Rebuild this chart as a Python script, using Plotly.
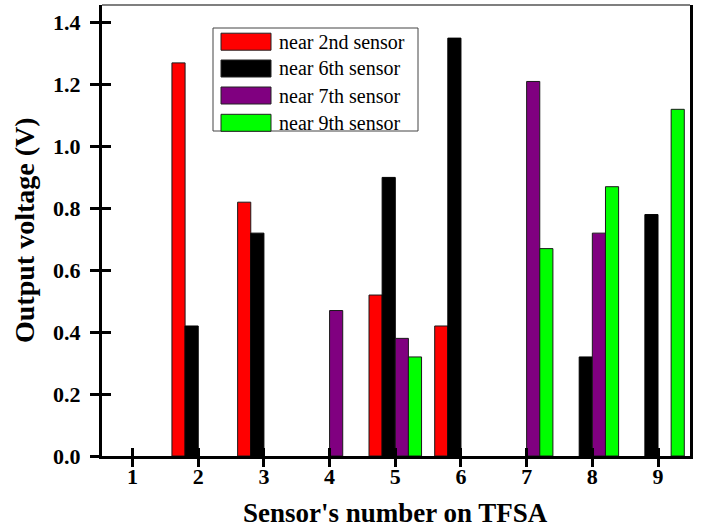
import plotly.graph_objects as go

# ---- data ----
sensors = [1, 2, 3, 4, 5, 6, 7, 8, 9]
near_2nd = [None, 1.27, 0.82, None, 0.52, 0.42, None, None, None]
near_6th = [None, 0.42, 0.72, None, 0.90, 1.35, None, 0.32, 0.78]
near_7th = [None, None, None, 0.47, 0.38, None, 1.21, 0.72, None]
near_9th = [None, None, None, None, 0.32, None, 0.67, 0.87, 1.12]
series_names = ["near 2nd sensor", "near 6th sensor", "near 7th sensor", "near 9th sensor"]
series_values = [near_2nd, near_6th, near_7th, near_9th]
colors = ["#FF0000", "#000000", "#800080", "#00FF00"]
y_ticks = [0.0, 0.2, 0.4, 0.6, 0.8, 1.0, 1.2, 1.4]

W, H = 704, 531
L, R, T, B = 102, 14, 5, 75
PW, PH = W - L - R, H - T - B


def px(xp):
    return (xp - L) / PW


def py(yp):
    return (H - B - yp) / PH


FONT = "Liberation Serif, Times New Roman, serif"

fig = go.Figure()
for name, vals, col in zip(series_names, series_values, colors):
    fig.add_trace(go.Bar(
        x=sensors, y=vals, name=name,
        marker=dict(color=col, line=dict(color="#000000" if col == "#000000" else "#1a1a1a", width=1)),
        showlegend=False,
    ))

# empty trace for overlay axes (crossing ticks)
fig.add_trace(go.Scatter(x=[], y=[], xaxis="x2", yaxis="y2", showlegend=False))

xr = [0.535, 9.487]
yr = [0, 1.457]

fig.update_layout(
    width=W, height=H,
    margin=dict(l=L, r=R, t=T, b=B, pad=0),
    paper_bgcolor="white", plot_bgcolor="white",
    barmode="group", bargap=0.2, bargroupgap=0,
    font=dict(family=FONT, color="black"),
    xaxis=dict(range=xr, tickmode="array", tickvals=sensors, ticktext=[str(s) for s in sensors],
               showgrid=False, zeroline=False, showline=True, linecolor="black", linewidth=3,
               ticks="outside", ticklen=8, tickwidth=3, tickcolor="black", automargin=False,
               ticklabelstandoff=-9,
               tickfont=dict(size=22, family=FONT, weight="bold"), mirror=False),
    yaxis=dict(range=yr, tickmode="array", tickvals=y_ticks, ticktext=[f"{v:.1f}" for v in y_ticks],
               showgrid=False, zeroline=False, showline=True, linecolor="black", linewidth=3,
               ticks="outside", ticklen=9, tickwidth=3, tickcolor="black", automargin=False,
               ticklabelstandoff=5,
               tickfont=dict(size=22, family=FONT, weight="bold"), mirror=True),
    xaxis2=dict(range=xr, overlaying="x", anchor="y", side="bottom", tickmode="array", tickvals=sensors,
                showticklabels=False, showgrid=False, zeroline=False, showline=False,
                ticks="inside", ticklen=8, tickwidth=3, tickcolor="black"),
    yaxis2=dict(range=yr, overlaying="y", anchor="x", side="left", tickmode="array", tickvals=y_ticks,
                showticklabels=False, showgrid=False, zeroline=False, showline=False,
                ticks="inside", ticklen=9, tickwidth=3, tickcolor="black"),
)

shapes = []
annotations = []
# thin top border
shapes.append(dict(type="line", xref="paper", yref="paper", x0=0, x1=1, y0=1, y1=1,
                   line=dict(color="#555555", width=1.5)))
# legend box
shapes.append(dict(type="rect", xref="paper", yref="paper", x0=px(213), x1=px(418), y0=py(131), y1=py(28),
                   line=dict(color="#444444", width=1), fillcolor="white", layer="above"))
row_centers = [41.7, 68.5, 95.5, 122.8]
for name, col, yc in zip(series_names, colors, row_centers):
    shapes.append(dict(type="rect", xref="paper", yref="paper", x0=px(221), x1=px(271),
                       y0=py(yc + 8.5), y1=py(yc - 8.5),
                       line=dict(color="#222222", width=1), fillcolor=col, layer="above"))
    annotations.append(dict(text=name, xref="paper", yref="paper", x=px(277), y=py(yc),
                            xanchor="left", yanchor="middle", showarrow=False,
                            font=dict(size=20, family=FONT, color="black")))

# axis titles
annotations.append(dict(text="<b>Output voltage (V)</b>", xref="paper", yref="paper",
                        x=px(24), y=py(230), xanchor="center", yanchor="middle", textangle=-90,
                        showarrow=False, font=dict(size=28, family=FONT, color="black")))
annotations.append(dict(text="<b>Sensor's number on TFSA</b>", xref="paper", yref="paper",
                        x=px(395), y=py(513), xanchor="center", yanchor="middle",
                        showarrow=False, font=dict(size=27, family=FONT, color="black")))

fig.update_layout(shapes=shapes, annotations=annotations)
fig.write_html("out.html", config={"displayModeBar": False},
               post_script="document.body.style.margin='0';document.body.style.padding='0';")
